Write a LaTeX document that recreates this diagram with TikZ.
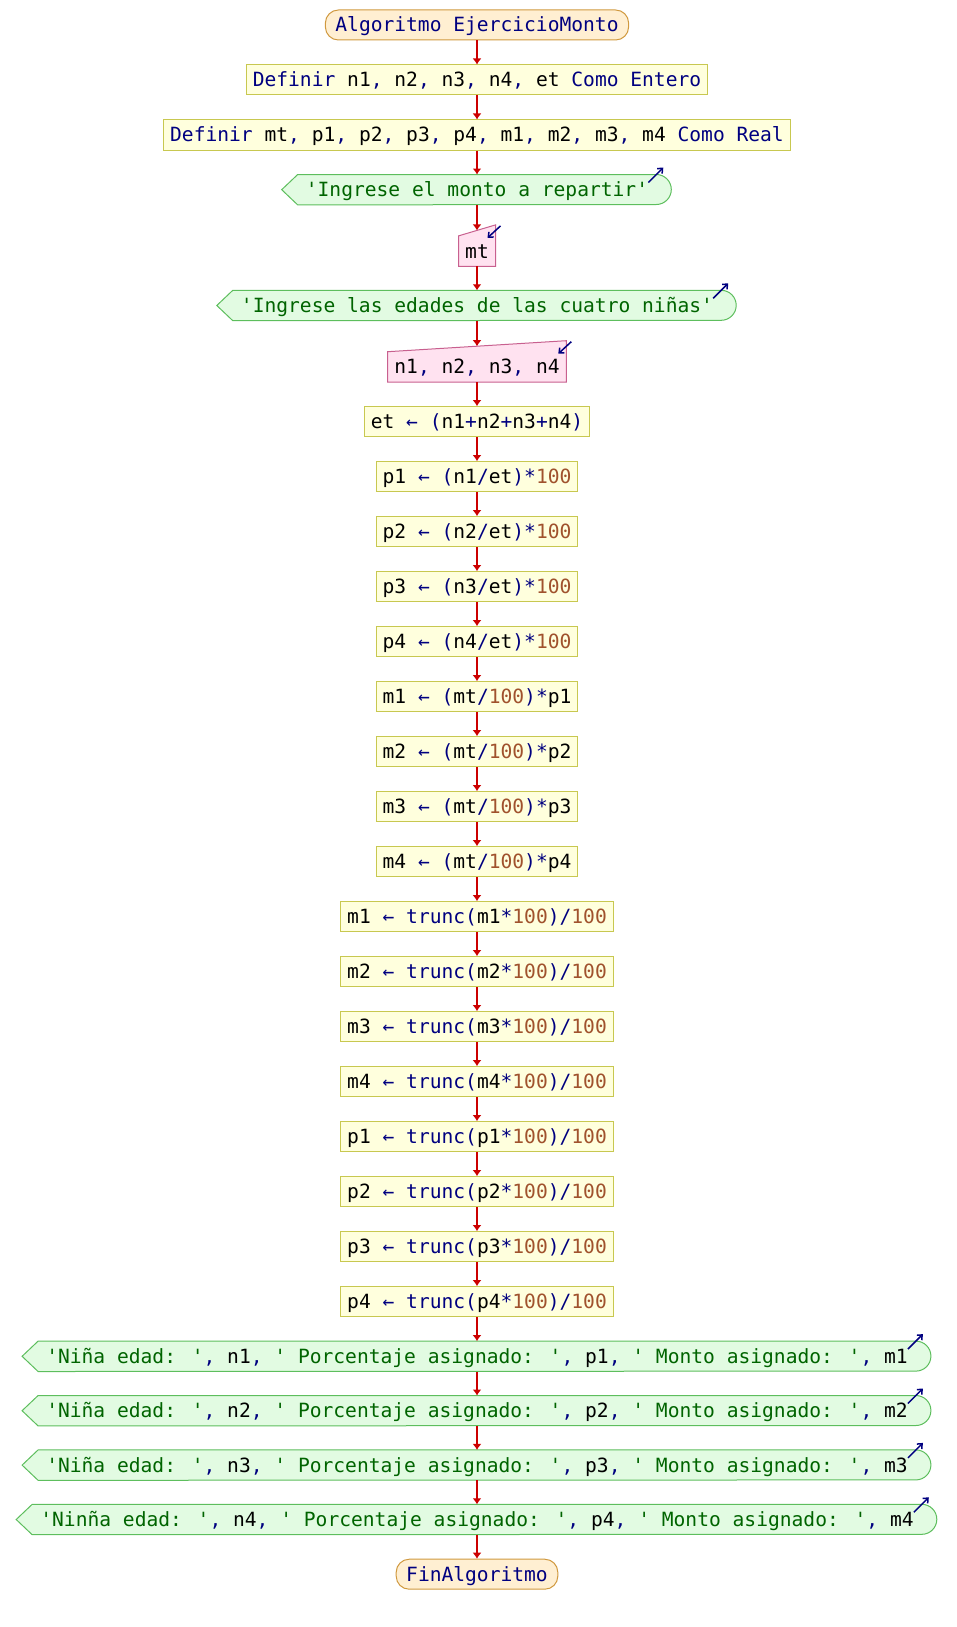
\documentclass[tikz,border=0pt]{standalone}
\usepackage{fontspec}
\usepackage{xcolor}
\usepackage{tikz}
\usetikzlibrary{positioning,arrows.meta,backgrounds}

\newfontfamily\codigo{DejaVu Sans Mono}

\definecolor{clave}{HTML}{000080}
\definecolor{cadena}{HTML}{006400}
\definecolor{numero}{HTML}{A0522D}
\definecolor{flecha}{HTML}{CC0000}
\definecolor{procfondo}{HTML}{FFFFDD}
\definecolor{procborde}{HTML}{C8C850}
\definecolor{terfondo}{HTML}{FFEFD2}
\definecolor{terborde}{HTML}{D0993F}
\definecolor{salfondo}{HTML}{E2FBE2}
\definecolor{salborde}{HTML}{5DBE5D}
\definecolor{entfondo}{HTML}{FFE2F0}
\definecolor{entborde}{HTML}{C8608F}

\newcommand{\clv}[1]{\textcolor{clave}{#1}}
\newcommand{\cad}[1]{\textcolor{cadena}{#1}}
\newcommand{\nro}[1]{\textcolor{numero}{#1}}

\begin{document}
\begin{tikzpicture}[node distance=24pt, auto,
	base/.style={minimum height=30pt, text height=16pt, text depth=2pt, inner ysep=6pt, inner xsep=6.5pt, font=\codigo\fontsize{19.6pt}{22pt}\selectfont},
	proc/.style={base, rectangle, draw=procborde, fill=procfondo, line width=1pt},
	term/.style={base, rectangle, rounded corners=13pt, draw=terborde, fill=terfondo, line width=1pt, inner xsep=10pt},
	sal/.style={base, inner xsep=8pt},
	ent/.style={base},
	flujo/.style={-{Latex[length=6pt,width=9pt]}, line width=1.4pt, draw=flecha},
	marca/.style={-{Straight Barb[length=4pt,width=7pt]}, line width=1.5pt, draw=clave}]
	\useasboundingbox (0,0) rectangle (956pt,-1627pt);

	\node[term] (ini) at (477pt,-25pt) {\clv{Algoritmo EjercicioMonto}};
	\node[proc, below=of ini] (def1) {\clv{Definir} n1\clv{,} n2\clv{,} n3\clv{,} n4\clv{,} et \clv{Como Entero}};
	\node[proc, below=of def1] (def2) {\clv{Definir} mt\clv{,} p1\clv{,} p2\clv{,} p3\clv{,} p4\clv{,} m1\clv{,} m2\clv{,} m3\clv{,} m4 \clv{Como Real}};
	\node[sal, below=of def2] (sal1) {\cad{'Ingrese el monto a repartir'}};
	\node[ent, below=31pt of sal1] (ent1) {mt};
	\node[sal, below=of ent1] (sal2) {\cad{'Ingrese las edades de las cuatro niñas'}};
	\node[ent, below=31pt of sal2] (ent2) {n1\clv{,} n2\clv{,} n3\clv{,} n4};
	\node[proc, below=of ent2] (et) {et \clv{← (}n1\clv{+}n2\clv{+}n3\clv{+}n4\clv{)}};
	\node[proc, below=of et] (p1) {p1 \clv{← (}n1\clv{/}et\clv{)*}\nro{100}};
	\node[proc, below=of p1] (p2) {p2 \clv{← (}n2\clv{/}et\clv{)*}\nro{100}};
	\node[proc, below=of p2] (p3) {p3 \clv{← (}n3\clv{/}et\clv{)*}\nro{100}};
	\node[proc, below=of p3] (p4) {p4 \clv{← (}n4\clv{/}et\clv{)*}\nro{100}};
	\node[proc, below=of p4] (m1) {m1 \clv{← (}mt\clv{/}\nro{100}\clv{)*}p1};
	\node[proc, below=of m1] (m2) {m2 \clv{← (}mt\clv{/}\nro{100}\clv{)*}p2};
	\node[proc, below=of m2] (m3) {m3 \clv{← (}mt\clv{/}\nro{100}\clv{)*}p3};
	\node[proc, below=of m3] (m4) {m4 \clv{← (}mt\clv{/}\nro{100}\clv{)*}p4};
	\node[proc, below=of m4] (tm1) {m1 \clv{← trunc(}m1\clv{*}\nro{100}\clv{)/}\nro{100}};
	\node[proc, below=of tm1] (tm2) {m2 \clv{← trunc(}m2\clv{*}\nro{100}\clv{)/}\nro{100}};
	\node[proc, below=of tm2] (tm3) {m3 \clv{← trunc(}m3\clv{*}\nro{100}\clv{)/}\nro{100}};
	\node[proc, below=of tm3] (tm4) {m4 \clv{← trunc(}m4\clv{*}\nro{100}\clv{)/}\nro{100}};
	\node[proc, below=of tm4] (tp1) {p1 \clv{← trunc(}p1\clv{*}\nro{100}\clv{)/}\nro{100}};
	\node[proc, below=of tp1] (tp2) {p2 \clv{← trunc(}p2\clv{*}\nro{100}\clv{)/}\nro{100}};
	\node[proc, below=of tp2] (tp3) {p3 \clv{← trunc(}p3\clv{*}\nro{100}\clv{)/}\nro{100}};
	\node[proc, below=of tp3] (tp4) {p4 \clv{← trunc(}p4\clv{*}\nro{100}\clv{)/}\nro{100}};
	\node[sal, below=of tp4] (sal3) {\cad{'Niña edad: '}\clv{,} n1\clv{,} \cad{' Porcentaje asignado: '}\clv{,} p1\clv{,} \cad{' Monto asignado: '}\clv{,} m1};
	\node[sal, below=of sal3] (sal4) {\cad{'Niña edad: '}\clv{,} n2\clv{,} \cad{' Porcentaje asignado: '}\clv{,} p2\clv{,} \cad{' Monto asignado: '}\clv{,} m2};
	\node[sal, below=of sal4] (sal5) {\cad{'Niña edad: '}\clv{,} n3\clv{,} \cad{' Porcentaje asignado: '}\clv{,} p3\clv{,} \cad{' Monto asignado: '}\clv{,} m3};
	\node[sal, below=of sal5] (sal6) {\cad{'Ninña edad: '}\clv{,} n4\clv{,} \cad{' Porcentaje asignado: '}\clv{,} p4\clv{,} \cad{' Monto asignado: '}\clv{,} m4};
	\node[term, below=of sal6] (fin) {\clv{FinAlgoritmo}};

	\coordinate (ent1top) at ([yshift=5.5pt]ent1.north);
	\coordinate (ent2top) at ([yshift=5.5pt]ent2.north);

	% formas de salida y de entrada
	\begin{scope}[on background layer]
		\foreach \s in {sal1,sal2,sal3,sal4,sal5,sal6}
			\draw[draw=salborde, fill=salfondo, line width=1pt] ([xshift=-16pt]\s.west) -- (\s.north west) -- (\s.north east) arc[start angle=90, end angle=-90, radius=15pt] -- (\s.south west) -- cycle;
		\foreach \e in {ent1,ent2}
			\draw[draw=entborde, fill=entfondo, line width=1pt] (\e.south west) -- (\e.north west) -- ([yshift=11pt]\e.north east) -- (\e.south east) -- cycle;
	\end{scope}

	\draw[flujo] (ini) -- (def1);
	\draw[flujo] (def1) -- (def2);
	\draw[flujo] (def2) -- (sal1);
	\draw[flujo] (sal1) -- (ent1top);
	\draw[flujo] (ent1) -- (sal2);
	\draw[flujo] (sal2) -- (ent2top);
	\draw[flujo] (ent2) -- (et);
	\draw[flujo] (et) -- (p1);
	\draw[flujo] (p1) -- (p2);
	\draw[flujo] (p2) -- (p3);
	\draw[flujo] (p3) -- (p4);
	\draw[flujo] (p4) -- (m1);
	\draw[flujo] (m1) -- (m2);
	\draw[flujo] (m2) -- (m3);
	\draw[flujo] (m3) -- (m4);
	\draw[flujo] (m4) -- (tm1);
	\draw[flujo] (tm1) -- (tm2);
	\draw[flujo] (tm2) -- (tm3);
	\draw[flujo] (tm3) -- (tm4);
	\draw[flujo] (tm4) -- (tp1);
	\draw[flujo] (tp1) -- (tp2);
	\draw[flujo] (tp2) -- (tp3);
	\draw[flujo] (tp3) -- (tp4);
	\draw[flujo] (tp4) -- (sal3);
	\draw[flujo] (sal3) -- (sal4);
	\draw[flujo] (sal4) -- (sal5);
	\draw[flujo] (sal5) -- (sal6);
	\draw[flujo] (sal6) -- (fin);

	% marcas de escritura y lectura
	\foreach \s in {sal1,sal2,sal3,sal4,sal5,sal6}
		\draw[marca] ([xshift=-8pt,yshift=-8pt]\s.north east) -- ([xshift=7pt,yshift=7pt]\s.north east);
	\foreach \e in {ent1,ent2}
		\draw[marca] ([xshift=5pt,yshift=10pt]\e.north east) -- ([xshift=-8pt,yshift=-2pt]\e.north east);
\end{tikzpicture}
\end{document}
